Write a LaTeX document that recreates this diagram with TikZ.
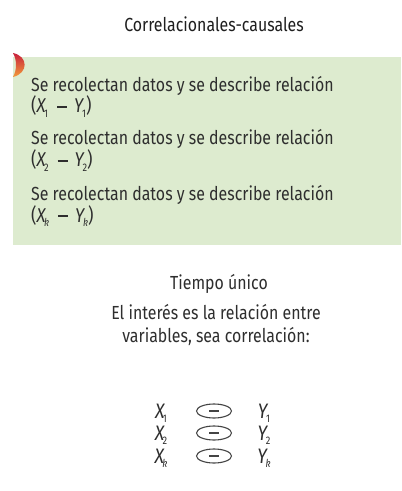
\documentclass[tikz,border=0pt]{standalone}
\usepackage{fontspec}
\setmainfont[FakeStretch=0.84]{Fira Sans}
\usetikzlibrary{shapes.geometric,calc}
\definecolor{boxgreen}{HTML}{DDEBCF}
\definecolor{txt}{HTML}{2E2E2E}
\definecolor{titletxt}{HTML}{1E1E1E}
\definecolor{markred}{HTML}{C8203C}
\definecolor{markorange}{HTML}{F29A3A}
\definecolor{ellgray}{HTML}{444444}
\newcommand{\vx}[1]{\textit{X}\kern-0.1em\raisebox{-0.45ex}{\fontsize{11}{11}\selectfont #1}}
\newcommand{\vy}[1]{\textit{Y}\kern-0.1em\raisebox{-0.45ex}{\fontsize{11}{11}\selectfont #1}}
\newcommand{\longminus}{\rule[0.27em]{0.5em}{0.06em}}
\newcommand{\pairf}[1]{(\vx{#1}\hspace{0.45em}\longminus\hspace{0.35em}\vy{#1})}
\begin{document}
\begin{tikzpicture}[x=1bp,y=-1bp,
  every node/.style={text=txt,font=\fontsize{19}{22}\selectfont,inner sep=0pt},
  boxline/.style={anchor=base west},
  midline/.style={anchor=base},
  bigvar/.style={anchor=base,font=\fontsize{21}{24}\selectfont},
  rel/.style={ellipse,draw=ellgray,line width=1.1bp,minimum width=35bp,minimum height=14bp,inner sep=0pt}]
\useasboundingbox (0,0) rectangle (401,491);
\fill[white] (0,0) rectangle (401,491);
% title
\node[midline,text=titletxt] (title) at (214,32) {Correlacionales-causales};
% green box
\fill[boxgreen] (13,57) rectangle (401,245);
% mark
\shade[top color=markred,bottom color=markorange]
  (13,53) .. controls (28,56) and (29,73) .. (13,77)
  .. controls (17,70) and (17,60) .. (13,53) -- cycle;
% box text
\node[boxline] (l1) at (31,92) {Se recolectan datos y se describe relación};
\node[boxline,font=\fontsize{20}{22}\selectfont] (f1) at (31,113) {\pairf{1}};
\node[boxline] (l2) at (31,145) {Se recolectan datos y se describe relación};
\node[boxline,font=\fontsize{20}{22}\selectfont] (f2) at (31,167) {\pairf{2}};
\node[boxline] (l3) at (31,200) {Se recolectan datos y se describe relación};
\node[boxline,font=\fontsize{20}{22}\selectfont] (f3) at (31,222) {\pairf{\textit{k}}};
% lower text
\node[midline] (t1) at (219,289) {Tiempo único};
\node[midline] (t2) at (216,319) {El interés es la relación entre};
\node[midline] (t3) at (216,342) {variables, sea correlación:};
% rows
\foreach \r/\s/\yy in {1/1/418,2/2/440,3/\textit{k}/463}{
  \node[bigvar] (x\r) at (161,\yy) {\vx{\s}};
  \node[rel] (e\r) at (214,\yy-7) {};
  \draw[ellgray,line width=1.1bp] ($(e\r.center)+(-5,0)$) -- ($(e\r.center)+(5,0)$);
  \node[bigvar] (y\r) at (264,\yy) {\vy{\s}};
}
\end{tikzpicture}
\end{document}
